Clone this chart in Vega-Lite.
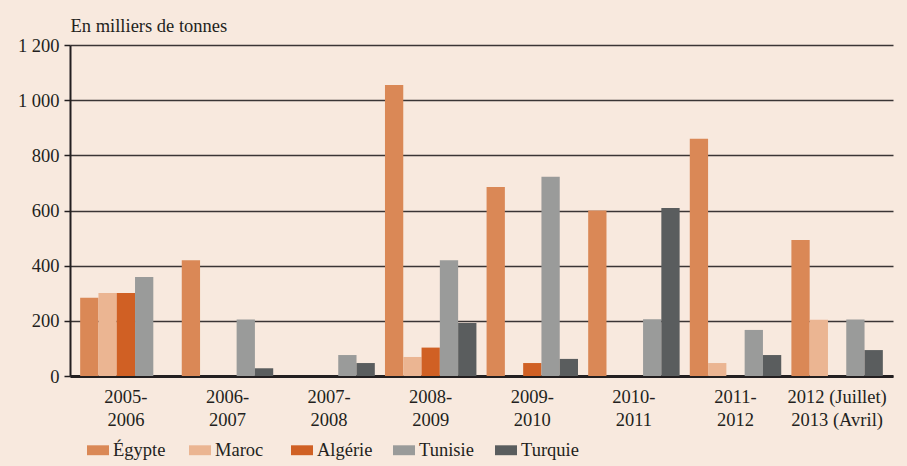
{
  "$schema": "https://vega.github.io/schema/vega-lite/v6.json",
  "width": 823,
  "height": 331,
  "autosize": {"type": "none"},
  "padding": {"left": 70, "top": 45, "right": 14, "bottom": 90},
  "background": "#F8E9DE",
  "config": {
    "view": {"stroke": null},
    "font": "Liberation Serif",
    "axis": {"labelFont": "Liberation Serif", "titleFont": "Liberation Serif", "labelColor": "#231F20", "titleColor": "#231F20"},
    "legend": {"labelFont": "Liberation Serif"}
  },
  "data": {
    "values": [
      {"periode": "2005-2006", "pays": "Égypte", "valeur": 284},
      {"periode": "2005-2006", "pays": "Maroc", "valeur": 301},
      {"periode": "2005-2006", "pays": "Algérie", "valeur": 301},
      {"periode": "2005-2006", "pays": "Tunisie", "valeur": 359},
      {"periode": "2005-2006", "pays": "Turquie", "valeur": 0},
      {"periode": "2006-2007", "pays": "Égypte", "valeur": 420},
      {"periode": "2006-2007", "pays": "Maroc", "valeur": 0},
      {"periode": "2006-2007", "pays": "Algérie", "valeur": 0},
      {"periode": "2006-2007", "pays": "Tunisie", "valeur": 205},
      {"periode": "2006-2007", "pays": "Turquie", "valeur": 28},
      {"periode": "2007-2008", "pays": "Égypte", "valeur": 0},
      {"periode": "2007-2008", "pays": "Maroc", "valeur": 0},
      {"periode": "2007-2008", "pays": "Algérie", "valeur": 0},
      {"periode": "2007-2008", "pays": "Tunisie", "valeur": 76},
      {"periode": "2007-2008", "pays": "Turquie", "valeur": 47},
      {"periode": "2008-2009", "pays": "Égypte", "valeur": 1055},
      {"periode": "2008-2009", "pays": "Maroc", "valeur": 69},
      {"periode": "2008-2009", "pays": "Algérie", "valeur": 103},
      {"periode": "2008-2009", "pays": "Tunisie", "valeur": 420},
      {"periode": "2008-2009", "pays": "Turquie", "valeur": 192},
      {"periode": "2009-2010", "pays": "Égypte", "valeur": 685},
      {"periode": "2009-2010", "pays": "Maroc", "valeur": 0},
      {"periode": "2009-2010", "pays": "Algérie", "valeur": 47},
      {"periode": "2009-2010", "pays": "Tunisie", "valeur": 722},
      {"periode": "2009-2010", "pays": "Turquie", "valeur": 62},
      {"periode": "2010-2011", "pays": "Égypte", "valeur": 600},
      {"periode": "2010-2011", "pays": "Maroc", "valeur": 0},
      {"periode": "2010-2011", "pays": "Algérie", "valeur": 0},
      {"periode": "2010-2011", "pays": "Tunisie", "valeur": 206},
      {"periode": "2010-2011", "pays": "Turquie", "valeur": 609},
      {"periode": "2011-2012", "pays": "Égypte", "valeur": 860},
      {"periode": "2011-2012", "pays": "Maroc", "valeur": 47},
      {"periode": "2011-2012", "pays": "Algérie", "valeur": 0},
      {"periode": "2011-2012", "pays": "Tunisie", "valeur": 167},
      {"periode": "2011-2012", "pays": "Turquie", "valeur": 76},
      {"periode": "2012-2013", "pays": "Égypte", "valeur": 493},
      {"periode": "2012-2013", "pays": "Maroc", "valeur": 204},
      {"periode": "2012-2013", "pays": "Algérie", "valeur": 0},
      {"periode": "2012-2013", "pays": "Tunisie", "valeur": 205},
      {"periode": "2012-2013", "pays": "Turquie", "valeur": 94}
    ]
  },
  "mark": {"type": "bar"},
  "encoding": {
    "x": {
      "field": "periode",
      "type": "nominal",
      "sort": null,
      "scale": {"paddingInner": 0.1, "paddingOuter": 0.1},
      "axis": {
        "title": null,
        "labelAngle": 0,
        "labelFontSize": 18.5,
        "labelPadding": 11,
        "labelLineHeight": 23,
        "labelBaseline": "top",
        "ticks": false,
        "domainColor": "#231F20",
        "domainWidth": 3,
        "labelExpr": "datum.value == '2012-2013' ? ['2012 (Juillet)', '2013 (Avril)'] : [substring(datum.value, 0, 5), substring(datum.value, 5)]"
      }
    },
    "xOffset": {"field": "pays", "type": "nominal", "sort": ["Égypte", "Maroc", "Algérie", "Tunisie", "Turquie"]},
    "y": {
      "field": "valeur",
      "type": "quantitative",
      "scale": {"domain": [0, 1200]},
      "axis": {
        "title": "En milliers de tonnes",
        "titleAngle": 0,
        "titleAlign": "left",
        "titleBaseline": "bottom",
        "titleX": 0,
        "titleY": -10,
        "titleFontSize": 18.5,
        "titleFontWeight": "normal",
        "values": [0, 200, 400, 600, 800, 1000, 1200],
        "labelFontSize": 18.5,
        "labelPadding": 5,
        "tickSize": 6,
        "tickColor": "#231F20",
        "tickWidth": 1.5,
        "domainColor": "#231F20",
        "domainWidth": 2,
        "grid": true,
        "gridColor": "#3A3535",
        "gridWidth": 1.6,
        "labelExpr": "replace(format(datum.value, ','), ',', ' ')"
      }
    },
    "color": {
      "field": "pays",
      "type": "nominal",
      "sort": ["Égypte", "Maroc", "Algérie", "Tunisie", "Turquie"],
      "scale": {
        "domain": ["Égypte", "Maroc", "Algérie", "Tunisie", "Turquie"],
        "range": ["#DA8856", "#EBB592", "#D06024", "#9A9B9A", "#5A5D5E"]
      },
      "legend": {
        "title": null,
        "orient": "none",
        "direction": "horizontal",
        "columns": 5,
        "gridAlign": "all",
        "legendX": 17,
        "legendY": 394,
        "symbolType": "M-1,-0.45H1V0.45H-1Z",
        "symbolSize": 484,
        "labelFontSize": 18.5,
        "labelColor": "#231F20",
        "columnPadding": 18,
        "labelOffset": 4,
        "symbolStrokeWidth": 0,
        "symbolOpacity": 1
      }
    }
  }
}
